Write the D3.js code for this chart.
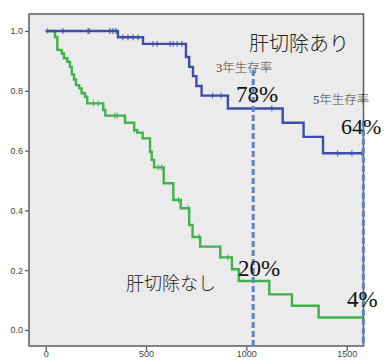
<!DOCTYPE html>
<html>
<head>
<meta charset="utf-8">
<script src="https://cdn.jsdelivr.net/npm/d3@7/dist/d3.min.js"></script>
<style>
  html, body { margin: 0; padding: 0; background: #ffffff; }
  svg { display: block; }
</style>
</head>
<body>
<div id="chart"></div>
<script>
// Kaplan–Meier survival: liver resection vs. none (days on x, survival on y)
const xTicks = [0, 500, 1000, 1500];
const yTicks = [0.0, 0.2, 0.4, 0.6, 0.8, 1.0];
const endDay = 1583;

// 肝切除あり — event times (day) and survival after each event
const resectSteps = [
  [360, 0.979], [485, 0.957], [699, 0.913], [715, 0.880], [734, 0.849],
  [751, 0.816], [777, 0.784], [908, 0.741], [1181, 0.693], [1285, 0.646],
  [1382, 0.591]
];
const resectCensored = [86, 211, 216, 320, 335, 350, 385, 410, 435, 460,
  535, 555, 620, 635, 655, 679, 832, 874, 1127, 1455, 1526, 1576];

// 肝切除なし
const noResectSteps = [
  [46, 0.980], [58, 0.937], [80, 0.925], [91, 0.909], [108, 0.897],
  [121, 0.880], [130, 0.855], [141, 0.838], [151, 0.819], [167, 0.808],
  [179, 0.792], [196, 0.780], [207, 0.758], [287, 0.736], [297, 0.717],
  [395, 0.693], [441, 0.669], [456, 0.660], [483, 0.641], [520, 0.596],
  [528, 0.569], [540, 0.544], [588, 0.491], [636, 0.435], [673, 0.407],
  [715, 0.351], [732, 0.311], [770, 0.279], [870, 0.243], [928, 0.203],
  [962, 0.164], [1114, 0.119], [1227, 0.081], [1360, 0.042]
];
const noResectCensored = [10, 238, 262, 345, 357, 441, 561, 578, 662, 711, 765, 908];

// Landmark lines (3-year and 5-year) and their annotations
const landmarks = [
  { day: 1034, top: 0.87 },
  { day: 1583, top: 0.70 }
];
const annotations = [
  { text: "肝切除あり", x: 249, y: 51, size: 20, family: "'Noto Sans CJK JP', sans-serif", color: "#222", weight: 300 },
  { text: "肝切除なし", x: 126, y: 290, size: 18, family: "'Noto Sans CJK JP', sans-serif", color: "#222", weight: 300 },
  { text: "3年生存率", x: 216, y: 72, size: 12.5, family: "'Liberation Serif', 'Noto Sans CJK JP', serif", color: "#444", weight: 300 },
  { text: "5年生存率", x: 313, y: 104, size: 12.5, family: "'Liberation Serif', 'Noto Sans CJK JP', serif", color: "#444", weight: 300 },
  { text: "78%", x: 236, y: 102, size: 23, family: "'Liberation Serif', serif", color: "#111", weight: 400 },
  { text: "64%", x: 341, y: 134, size: 22, family: "'Liberation Serif', serif", color: "#111", weight: 400 },
  { text: "20%", x: 238, y: 276, size: 23, family: "'Liberation Serif', serif", color: "#111", weight: 400 },
  { text: "4%", x: 347, y: 307, size: 23, family: "'Liberation Serif', serif", color: "#111", weight: 400 }
];

const W = 384, H = 360;
const plot = { left: 29, top: 14, right: 363.5, bottom: 346 };

const x = d3.scaleLinear().domain([-83.2, 1583.7]).range([plot.left, plot.right]);
const y = d3.scaleLinear().domain([-0.0535, 1.0569]).range([plot.bottom, plot.top]);

const svg = d3.select("#chart").append("svg")
  .attr("width", W).attr("height", H);

// Plot background
svg.append("rect")
  .attr("x", plot.left).attr("y", plot.top)
  .attr("width", plot.right - plot.left).attr("height", plot.bottom - plot.top)
  .attr("fill", "#ebebeb");

// Axes
const yAxis = svg.append("g")
  .attr("transform", `translate(${plot.left},0)`)
  .call(d3.axisLeft(y).tickValues(yTicks).tickFormat(d3.format(".1f")).tickSize(4).tickPadding(2));
const xAxis = svg.append("g")
  .attr("transform", `translate(0,${plot.bottom})`)
  .call(d3.axisBottom(x).tickValues(xTicks).tickFormat(d3.format("d")).tickSize(5).tickPadding(1));
[yAxis, xAxis].forEach(g => {
  g.select(".domain").remove();
  g.selectAll("line").attr("stroke", "#555").attr("stroke-width", 1.2);
  g.selectAll("text")
    .attr("fill", "#444")
    .style("font-family", "'Liberation Sans', Arial, sans-serif")
    .style("font-size", "9px");
});
xAxis.selectAll("text").attr("dy", "0.6em");

// Survival curves
function curvePoints(steps) {
  const pts = [[0, 1.0], ...steps];
  pts.push([endDay, steps[steps.length - 1][1]]);
  return pts;
}
function survivalAt(steps, day) {
  let s = 1.0;
  for (const [t, v] of steps) { if (t <= day) s = v; }
  return s;
}
const line = d3.line()
  .x(d => x(d[0])).y(d => y(d[1]))
  .curve(d3.curveStepAfter);

const groups = [
  { steps: noResectSteps, censored: noResectCensored, color: "#3fb34a" },
  { steps: resectSteps, censored: resectCensored, color: "#3a4fa5" }
];

groups.forEach(gr => {
  svg.append("path")
    .datum(curvePoints(gr.steps))
    .attr("d", line)
    .attr("fill", "none")
    .attr("stroke", gr.color)
    .attr("stroke-width", 2.4);
  svg.append("g").selectAll("line")
    .data(gr.censored)
    .join("line")
    .attr("x1", d => x(d)).attr("x2", d => x(d))
    .attr("y1", d => y(survivalAt(gr.steps, d)) - 3)
    .attr("y2", d => y(survivalAt(gr.steps, d)) + 3)
    .attr("stroke", gr.color)
    .attr("stroke-width", 1);
});

// Frame
svg.append("rect")
  .attr("x", plot.left).attr("y", plot.top)
  .attr("width", plot.right - plot.left).attr("height", plot.bottom - plot.top)
  .attr("fill", "none")
  .attr("stroke", "#666")
  .attr("stroke-width", 1.6);

// Landmark dashed lines
svg.append("g").selectAll("line")
  .data(landmarks)
  .join("line")
  .attr("x1", d => x(d.day)).attr("x2", d => x(d.day))
  .attr("y1", d => y(d.top)).attr("y2", plot.bottom)
  .attr("stroke", "#5a85c2")
  .attr("stroke-width", 3)
  .attr("stroke-dasharray", "6,3");

// Annotation text
svg.append("g").selectAll("text")
  .data(annotations)
  .join("text")
  .attr("x", d => d.x).attr("y", d => d.y)
  .attr("fill", d => d.color)
  .style("font-family", d => d.family)
  .style("font-size", d => d.size + "px")
  .style("font-weight", d => d.weight)
  .text(d => d.text);
</script>
</body>
</html>
